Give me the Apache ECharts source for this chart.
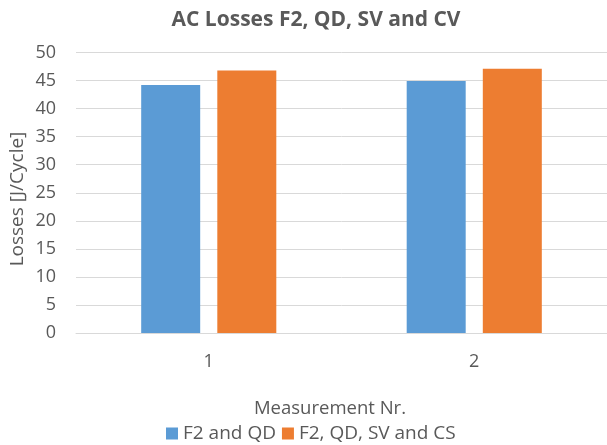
<!DOCTYPE html>
<html>
<head>
<meta charset="utf-8">
<script src="https://cdn.jsdelivr.net/npm/echarts@6/dist/echarts.min.js"></script>
<style>html,body{margin:0;padding:0;background:#fff}#c{width:607px;height:445px}</style>
</head>
<body>
<div id="c"></div>
<script>
const categories = ['1', '2'];
const seriesNames = ['F2 and QD', 'F2, QD, SV and CS'];
const f2qd = [44.2, 44.9];
const f2qdsvcs = [46.8, 47.1];
const yTicks = { min: 0, max: 50, interval: 5 };
const yName = 'Losses [J/Cycle]';

const font = '"Open Sans", "Liberation Sans", sans-serif';
const chart = echarts.init(document.getElementById('c'), null, { renderer: 'canvas' });
chart.setOption({
  animation: false,
  backgroundColor: '#fff',
  title: [{
    text: 'AC Losses F2, QD, SV and CV',
    left: 311, top: 5, textAlign: 'center',
    textStyle: { fontFamily: font, fontSize: 21, fontWeight: 'bold', color: '#595959' }
  }, {
    text: 'Measurement Nr.',
    left: 325, top: 394, textAlign: 'center',
    textStyle: { fontFamily: font, fontSize: 18.5, fontWeight: 'normal', color: '#595959' }
  }],
  graphic: [{
    type: 'text', x: 18, y: 199, rotation: Math.PI / 2,
    style: { text: yName, fontFamily: font, fontSize: 19, fill: '#595959', align: 'center', verticalAlign: 'middle' }
  }],
  legend: {
    data: seriesNames,
    top: 419, left: 161,
    itemWidth: 12, itemHeight: 12, itemGap: 6,
    icon: 'rect',
    textStyle: { fontFamily: font, fontSize: 19, color: '#595959' }
  },
  grid: { left: 76, right: -5, top: 52.5, bottom: 112 },
  xAxis: {
    type: 'category', data: categories,
    axisLine: { lineStyle: { color: '#d9d9d9' } },
    axisTick: { show: false },
    axisLabel: { fontFamily: font, fontSize: 18, color: '#595959', margin: 20 }
  },
  yAxis: {
    type: 'value', min: yTicks.min, max: yTicks.max, interval: yTicks.interval,
    axisLine: { show: false }, axisTick: { show: false },
    splitLine: { lineStyle: { color: '#d9d9d9' } },
    axisLabel: { fontFamily: font, fontSize: 18, color: '#595959', margin: 20 }
  },
  series: [
    { name: seriesNames[0], type: 'bar', data: f2qd, barWidth: 59, barGap: '29%', itemStyle: { color: '#5b9bd5' } },
    { name: seriesNames[1], type: 'bar', data: f2qdsvcs, barWidth: 59, barGap: '29%', itemStyle: { color: '#ed7d31' } }
  ]
});
</script>
</body>
</html>
